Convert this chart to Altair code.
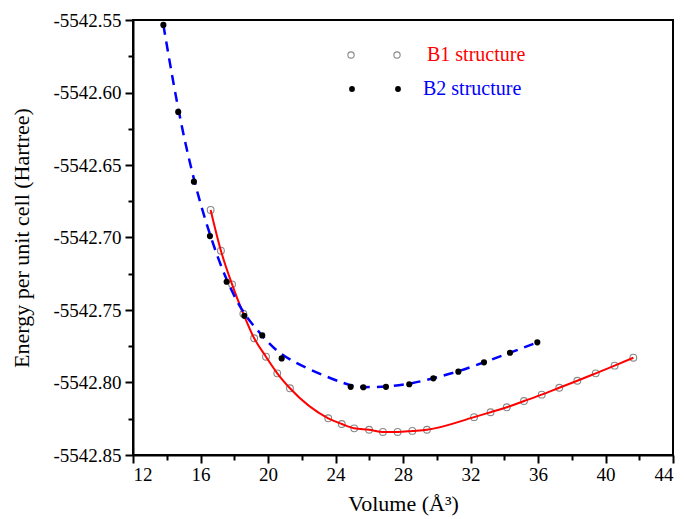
import altair as alt
import pandas as pd

# ---- data ----
b1_volume = [16.60, 17.21, 17.87, 18.54, 19.18, 19.88, 20.55, 21.30, 23.57, 24.37,
             25.11, 25.99, 26.81, 27.68, 28.55, 29.42, 32.21, 33.19, 34.15, 35.17,
             36.22, 37.26, 38.33, 39.42, 40.54, 41.65]
b1_energy = [-5542.6810, -5542.7091, -5542.7323, -5542.7526, -5542.7695, -5542.7822,
             -5542.7937, -5542.8040, -5542.8247, -5542.8286, -5542.8316, -5542.8326,
             -5542.8341, -5542.8341, -5542.8334, -5542.8326, -5542.8239, -5542.8205,
             -5542.8171, -5542.8128, -5542.8084, -5542.8036, -5542.7988, -5542.7937,
             -5542.7884, -5542.7829]

b2_volume = [13.80, 14.68, 15.61, 16.56, 17.55, 18.60, 19.66, 20.81, 24.90, 25.65,
             26.99, 28.37, 29.80, 31.28, 32.80, 34.34, 35.96]
b2_energy = [-5542.5534, -5542.6134, -5542.6615, -5542.6990, -5542.7305, -5542.7540,
             -5542.7675, -5542.7834, -5542.8030, -5542.8033, -5542.8030, -5542.8012,
             -5542.7971, -5542.7925, -5542.7861, -5542.7795, -5542.7723]

x_major = [12, 16, 20, 24, 28, 32, 36, 40, 44]
x_minor = [14, 18, 22, 26, 30, 34, 38, 42]
y_major = [-5542.85, -5542.80, -5542.75, -5542.70, -5542.65, -5542.60, -5542.55]
y_minor = [-5542.825, -5542.775, -5542.725, -5542.675, -5542.625, -5542.575]

legend_labels = ["B1 structure", "B2 structure"]

FONT = "Liberation Serif"

b1 = pd.DataFrame({"volume": b1_volume, "energy": b1_energy})
b2 = pd.DataFrame({"volume": b2_volume, "energy": b2_energy})

xs = alt.Scale(domain=[12, 44], nice=False, zero=False)
ys = alt.Scale(domain=[-5542.85, -5542.55], nice=False, zero=False)

label_expr = "replace(format(datum.value, '.2f'), '\u2212', '-')"

x_major_axis = alt.Axis(values=x_major, format="d", tickSize=8, orient="bottom",
                        labelPadding=2, titlePadding=9)
y_major_axis = alt.Axis(values=y_major, labelExpr=label_expr, tickSize=8, orient="left",
                        labelPadding=4, titlePadding=19)

b1_points = alt.Chart(b1).mark_point(shape="circle", filled=False, color="#888888",
                                     size=46, strokeWidth=1.1, opacity=1).encode(
    x=alt.X("volume:Q", scale=xs, axis=x_major_axis, title="Volume (Å³)"),
    y=alt.Y("energy:Q", scale=ys, axis=y_major_axis, title="Energy per unit cell (Hartree)"),
)

minor_layer = alt.Chart(b1).mark_point(opacity=0).encode(
    x=alt.X("volume:Q", scale=xs, title=None,
            axis=alt.Axis(values=x_minor, labels=False, tickSize=5, domain=False, orient="bottom")),
    y=alt.Y("energy:Q", scale=ys, title=None,
            axis=alt.Axis(values=y_minor, labels=False, tickSize=5, domain=False, orient="left")),
)

b1_line = alt.Chart(b1).mark_line(color="#ff0000", strokeWidth=2, interpolate="monotone").encode(
    x=alt.X("volume:Q", scale=xs, axis=None),
    y=alt.Y("energy:Q", scale=ys, axis=None),
)

b2_line = alt.Chart(b2).mark_line(color="#0000ff", strokeWidth=2.5, strokeDash=[10, 7],
                                  interpolate="basis").encode(
    x=alt.X("volume:Q", scale=xs, axis=None),
    y=alt.Y("energy:Q", scale=ys, axis=None),
)

b2_points = alt.Chart(b2).mark_point(shape="circle", filled=True, color="black",
                                     size=38, opacity=1).encode(
    x=alt.X("volume:Q", scale=xs, axis=None),
    y=alt.Y("energy:Q", scale=ys, axis=None),
)

# custom legend (annotation placed inside the plot area)
leg_df = pd.DataFrame({"label": legend_labels})
leg_b1_sym = alt.Chart(leg_df).transform_filter("datum.label == 'B1 structure'")
leg_b2_sym = alt.Chart(leg_df).transform_filter("datum.label == 'B2 structure'")

legend_layers = []
for sx in (218, 264):
    legend_layers.append(leg_b1_sym.mark_point(shape="circle", filled=False, color="#888888",
                                               size=40, strokeWidth=1.1, opacity=1).encode(
        x=alt.value(sx), y=alt.value(35)))
    legend_layers.append(leg_b2_sym.mark_point(shape="circle", filled=True, color="black",
                                               size=34, opacity=1).encode(
        x=alt.value(sx + 1), y=alt.value(69)))
legend_layers.append(leg_b1_sym.mark_text(font=FONT, fontSize=20, color="#ff0000", align="left",
                                          baseline="middle").encode(
    x=alt.value(294), y=alt.value(35), text="label:N"))
legend_layers.append(leg_b2_sym.mark_text(font=FONT, fontSize=20, color="#0000ff", align="left",
                                          baseline="middle").encode(
    x=alt.value(290), y=alt.value(69), text="label:N"))

chart = alt.layer(
    b1_points, minor_layer, b1_line, b2_line, b2_points, *legend_layers
).resolve_axis(
    x="independent", y="independent"
).properties(
    width=540, height=435,
    background="white",
    autosize=alt.AutoSizeParams(type="none"),
    padding={"left": 125, "top": 12, "right": 3, "bottom": 64},
).configure_view(
    stroke="black", strokeWidth=2
).configure_axis(
    grid=False,
    labelFont=FONT, labelFontSize=19, labelColor="black",
    titleFont=FONT, titleFontSize=22, titleFontWeight="normal", titleColor="black",
    domainColor="black", domainWidth=2, tickColor="black", tickWidth=2,
)

chart.save("out.html", embed_options={"renderer": "svg", "actions": False})
